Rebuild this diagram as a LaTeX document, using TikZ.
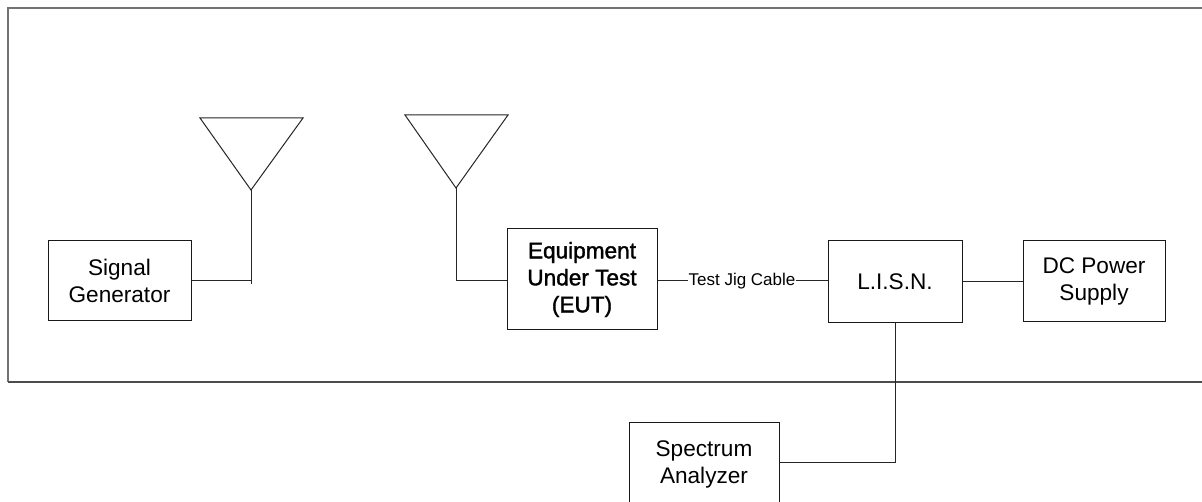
\documentclass[tikz,border=0pt]{standalone}
\usepackage{fontspec}
\setmainfont{Liberation Sans}
\newfontfamily\eutfont[FakeBold=1.5]{Liberation Sans}
\tikzset{
  wire/.style={draw=black!85,line width=1pt},
  frameline/.style={draw=black!55,line width=1.6pt},
  framelow/.style={draw=black!70,line width=1.2pt},
  blockbox/.style={draw=black!90,line width=1pt,rectangle,inner sep=0pt,align=center,text=black,
    font=\fontsize{22.6pt}{27pt}\selectfont},
  cablelabel/.style={inner sep=0pt,text=black,font=\fontsize{17pt}{20pt}\selectfont},
}
\begin{document}
\begin{tikzpicture}[x=1pt,y=-1pt]
\useasboundingbox (0,0) rectangle (1202,502);
\path[fill=white] (0,0) rectangle (1202,502);
% enclosure
\coordinate (ftr) at (1203,8);
\coordinate (ftl) at (8,8);
\coordinate (fbl) at (8,382);
\coordinate (fbr) at (1203,382);
\draw[frameline] (ftr) -- (ftl) -- (fbl);
\draw[framelow] (fbl) -- (fbr);
% blocks
\node[blockbox,minimum width=143pt,minimum height=80pt] (sg) at (119.5,281) {Signal\\Generator};
\node[blockbox,minimum width=150pt,minimum height=101pt] (eut) at (582,279.5) {\eutfont Equipment\\\eutfont Under Test\\\eutfont (EUT)};
\node[blockbox,minimum width=134pt,minimum height=82pt] (lisn) at (895,282) {L.I.S.N.};
\node[blockbox,minimum width=142pt,minimum height=81pt] (dc) at (1094,281.5) {DC Power\\Supply};
\node[blockbox,minimum width=150pt,minimum height=84pt] (sa) at (704,464) {Spectrum\\Analyzer};
\node[cablelabel] (jig) at (742,281) {Test Jig Cable};
% antennas
\coordinate (a1l) at (200,118);
\coordinate (a1r) at (303,118);
\coordinate (a1t) at (251,190);
\coordinate (a1b) at (251,284);
\draw[wire,line join=miter] (a1l) -- (a1r) -- (a1t) -- cycle;
\draw[wire] (a1t) -- (a1b);
\coordinate (a2l) at (405,115);
\coordinate (a2r) at (508,115);
\coordinate (a2t) at (456,188);
\coordinate (a2j) at (456,281);
\draw[wire,line join=miter] (a2l) -- (a2r) -- (a2t) -- cycle;
% connectors
\draw[wire] (sg.east) -- (sg.east -| a1b);
\draw[wire] (a2t) -- (a2j) -- (a2j -| eut.west);
\draw[wire] (jig.west -| eut.east) -- (jig.west);
\draw[wire] (jig.east) -- (jig.east -| lisn.west);
\draw[wire] (lisn.east) -- (lisn.east -| dc.west);
\draw[wire] (lisn.south) -- (lisn.south |- 0,462) -- (sa.east |- 0,462);
\end{tikzpicture}
\end{document}
